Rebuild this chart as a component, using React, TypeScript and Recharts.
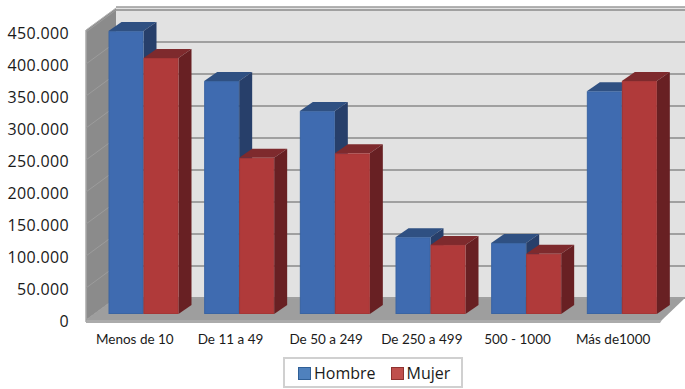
import React from 'react';
import { BarChart, Bar, XAxis, YAxis, CartesianGrid, Legend } from 'recharts';

const categories = ['Menos de 10', 'De 11 a 49', 'De 50 a 249', 'De 250 a 499', '500 - 1000', 'Más de1000'];
const hombre = [442000, 364000, 317000, 120000, 111000, 348000];
const mujer = [400000, 244000, 251000, 108000, 94000, 364000];
const yTicks = [0, 50000, 100000, 150000, 200000, 250000, 300000, 350000, 400000, 450000];

const data = categories.map((name, i) => ({ name, hombre: hombre[i], mujer: mujer[i] }));

const formatTick = (v: number) => (v === 0 ? '0' : `${v / 1000}.000`);

// depth of each bar, and where the back wall sits relative to the bars' plane
const DEPTH_X = 13;
const DEPTH_Y = 9;
const WALL_Y = 16;

function Bar3D({ x, y, width, height, front, top, side, edge }: any) {
  const r = x + width;
  const b = y + height;
  return (
    <g>
      <polygon points={`${x},${y} ${x + DEPTH_X},${y - DEPTH_Y} ${r + DEPTH_X},${y - DEPTH_Y} ${r},${y}`} fill={top} />
      <polygon points={`${r},${y} ${r + DEPTH_X},${y - DEPTH_Y} ${r + DEPTH_X},${b - DEPTH_Y} ${r},${b}`} fill={side} />
      <rect x={x + 0.5} y={y + 0.5} width={width - 1} height={height - 1} fill={front} stroke={edge} strokeWidth={1} />
    </g>
  );
}

// box of the 3D chart, sits behind the transparent chart svg
function Walls() {
  return (
    <svg width={685} height={389} style={{ position: 'absolute', left: 0, top: 0 }}>
      <rect x={116} y={7} width={569} height={291} fill="#e2e2e2" />
      <line x1={116} y1={7} x2={685} y2={7} stroke="#9a9a9a" strokeWidth={1.5} />
      <polygon points="86,30 116,8 116,298 86,320" fill="#8b8b8b" />
      <polygon points="86,320 116,298 685,298 662,320" fill="#9e9e9e" />
      <polygon points="86,320 662,320 660,323 86,323" fill="#ababab" />
      <line x1={86} y1={30} x2={86} y2={322} stroke="#a8a8a8" strokeWidth={1.5} />
      <line x1={86} y1={30} x2={116} y2={8} stroke="#b5b5b5" strokeWidth={1} />
    </svg>
  );
}

function GridLine({ y1 }: any) {
  const back = y1 - WALL_Y;
  return (
    <g>
      <line x1={116} y1={back} x2={685} y2={back} stroke="#a0a0a0" strokeWidth={2} />
      <line x1={86} y1={back + 22} x2={116} y2={back} stroke="#9c9c9c" strokeWidth={1} />
    </g>
  );
}

function YTick({ y, payload }: any) {
  return (
    <text x={69} y={y + 7} dy={5.5} textAnchor="end" fontSize={16} letterSpacing={0.35} fill="#1a1a1a" fontFamily="Open Sans">
      {formatTick(payload.value)}
    </text>
  );
}

function XTick({ x, y, payload }: any) {
  return (
    <text x={x - 9} y={y} dy={4} textAnchor="middle" fontSize={13.5} fill="#1a1a1a" fontFamily="Lato">
      {payload.value}
    </text>
  );
}

function LegendBox({ payload }: any) {
  const swatches: Record<string, string> = { Hombre: '#2f5f96', Mujer: '#8f3330' };
  return (
    <div style={{ display: 'flex', alignItems: 'center', height: '100%', paddingLeft: 13, paddingTop: 1, boxSizing: 'border-box', fontFamily: 'Open Sans', fontSize: 16, color: '#1a1a1a' }}>
      {(payload || []).map((p: any) => (
        <span key={p.value} style={{ display: 'flex', alignItems: 'center', marginRight: 15 }}>
          <span style={{ width: 11, height: 11, background: p.color, border: `1px solid ${swatches[p.value]}`, marginRight: 3 }} />
          {p.value}
        </span>
      ))}
    </div>
  );
}

export default function App() {
  return (
    <div style={{ position: 'absolute', left: 0, top: 0, width: 685, height: 389, background: '#fff' }}>
      <Walls />
      <BarChart
        width={685}
        height={389}
        data={data}
        margin={{ top: 26, right: 15, bottom: 0, left: 0 }}
        barCategoryGap={12.5}
        barGap={0}
      >
        <CartesianGrid vertical={false} horizontal={(props: any) => <GridLine key={props.key} {...props} />} />
        <XAxis dataKey="name" axisLine={false} tickLine={false} interval={0} tick={<XTick />} tickMargin={20} height={75} />
        <YAxis width={96} domain={[0, 450000]} ticks={yTicks} axisLine={false} tickLine={false} tick={<YTick />} />
        <Legend
          content={<LegendBox />}
          layout="horizontal"
          verticalAlign="middle"
          wrapperStyle={{ position: 'absolute', left: 283, top: 357, width: 180, height: 31, bottom: 'auto', border: '2px solid #d0d0d0', boxSizing: 'border-box', background: '#fff' }}
        />
        <Bar
          dataKey="hombre"
          name="Hombre"
          fill="#4f81bd"
          isAnimationActive={false}
          shape={(p: any) => <Bar3D {...p} front="#3f6bb0" top="#2f5082" side="#273f6a" edge="#3a64a2" />}
        />
        <Bar
          dataKey="mujer"
          name="Mujer"
          fill="#c0504d"
          isAnimationActive={false}
          shape={(p: any) => <Bar3D {...p} front="#b03a3a" top="#7e2a2d" side="#682023" edge="#a53636" />}
        />
      </BarChart>
    </div>
  );
}
